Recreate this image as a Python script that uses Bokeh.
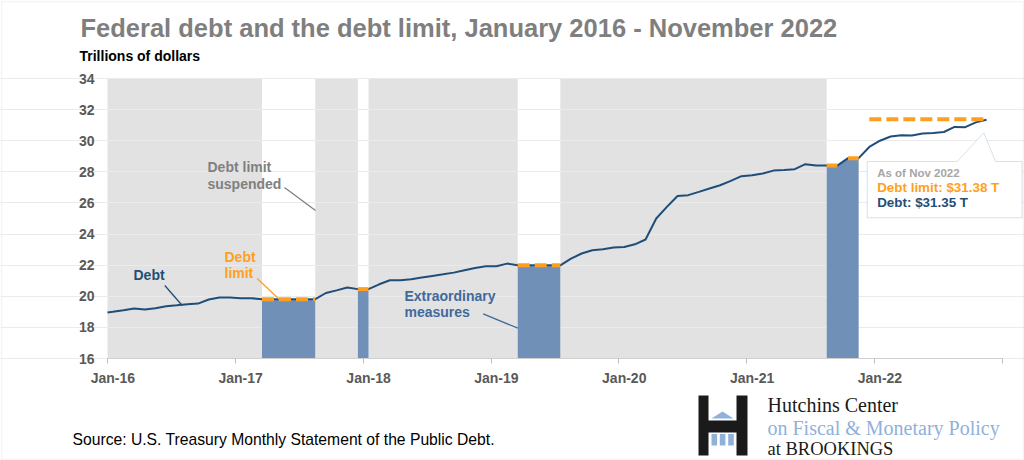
import pandas as pd
from bokeh.plotting import figure
from bokeh.models import FixedTicker, Label, PolyAnnotation, Range1d
from bokeh.embed import file_html
from bokeh.resources import INLINE

# ---------------- data ----------------
debt_start = "2015-12"
debt = [
    18.92,
    19.00, 19.10, 19.21, 19.15, 19.23, 19.36, 19.42, 19.49, 19.53, 19.79, 19.92, 19.92,   # 2016
    19.88, 19.88, 19.81, 19.81, 19.81, 19.81, 19.81, 19.81, 20.21, 20.38, 20.56, 20.46,   # 2017
    20.46, 20.77, 21.03, 21.03, 21.09, 21.20, 21.31, 21.41, 21.52, 21.67, 21.82, 21.93,   # 2018
    21.93, 22.10, 21.99, 21.99, 21.99, 21.99, 21.99, 22.42, 22.75, 22.96, 23.02, 23.13,   # 2019
    23.17, 23.34, 23.65, 25.00, 25.75, 26.45, 26.50, 26.71, 26.93, 27.14, 27.42, 27.72,   # 2020
    27.78, 27.89, 28.08, 28.12, 28.17, 28.49, 28.40, 28.40, 28.40, 28.88, 28.88, 29.60,   # 2021
    30.00, 30.27, 30.35, 30.33, 30.46, 30.50, 30.56, 30.89, 30.87, 31.18, 31.35,          # 2022
]
# extraordinary-measures periods (first month, last month)
em_periods = [("2017-03", "2017-08"), ("2017-12", "2018-01"),
              ("2019-03", "2019-07"), ("2021-08", "2021-11")]
# debt limit suspended (between month centres)
suspended = [("2015-12", "2017-03"), ("2017-08", "2017-12"),
             ("2018-01", "2019-03"), ("2019-07", "2021-08")]
# debt limit levels
limit_start = ["2017-03", "2017-12", "2019-03", "2021-08", "2021-10", "2021-12"]
limit_end = ["2017-08", "2018-01", "2019-07", "2021-09", "2021-11", "2022-11"]
limit_value = [19.81, 20.46, 21.99, 28.40, 28.88, 31.38]

tick_years = ["Jan-16", "Jan-17", "Jan-18", "Jan-19", "Jan-20", "Jan-21", "Jan-22"]
y_ticks = [16, 18, 20, 22, 24, 26, 28, 30, 32, 34]
Y_MIN, Y_MAX = 16, 34
XMAX = 84

# ---------------- helpers ----------------
def mpos(s):
    """month string -> x position (centre of month, Jan-2016 starts at 0)"""
    p = pd.Period(s, freq="M")
    return (p.year - 2016) * 12 + (p.month - 1) + 0.5

debt_months = [str(p) for p in pd.period_range(debt_start, periods=len(debt), freq="M")]
debt_x = [mpos(m) for m in debt_months]

W, H = 1024, 460
PL, PR, PT, PB = 107, 1002, 78, 358  # plot area in page pixels

def dx(px):
    return (px - PL) / (PR - PL) * XMAX

def dy(py):
    return Y_MIN + (PB - py) / (PB - PT) * (Y_MAX - Y_MIN)

NAVY = "#1F4E79"
ORANGE = "#FF9F1F"
AREA = "#7090B8"
EMTXT = "#41699C"
GRAYTXT = "#808080"
FONT = "Liberation Sans"

p = figure(width=W, height=H, x_range=Range1d(dx(0), dx(W)), y_range=Range1d(dy(H), dy(0)),
           output_backend="svg", toolbar_location=None,
           min_border_left=0, min_border_right=0, min_border_top=0, min_border_bottom=0)
p.background_fill_color = "white"
p.border_fill_color = "white"
p.outline_line_color = None

# suspended shading
p.quad(left=[max(mpos(a), 0) for a, b in suspended], right=[mpos(b) for a, b in suspended],
       bottom=Y_MIN, top=Y_MAX, fill_color="#E2E2E2", line_color=None, level="image")

# grid
p.xgrid.visible = False
p.ygrid.ticker = FixedTicker(ticks=y_ticks)
p.ygrid.bounds = (0, XMAX)
p.ygrid.grid_line_color = "#EBEBEB"
p.ygrid.grid_line_width = 1.2

# extraordinary-measures areas
for a, b in em_periods:
    i0, i1 = debt_months.index(a), debt_months.index(b)
    p.varea(x=debt_x[i0:i1 + 1], y1=Y_MIN, y2=debt[i0:i1 + 1], fill_color=AREA, fill_alpha=1)

# debt line (clipped at the start of the axis)
first = [i for i, v in enumerate(debt_x) if v >= 0][0]
x_line = [0] + debt_x[first:]
y_line = [debt[first - 1] + (debt[first] - debt[first - 1]) * (0 - debt_x[first - 1]) /
          (debt_x[first] - debt_x[first - 1])] + debt[first:]
p.line(x_line, y_line, line_color=NAVY, line_width=2)

# debt limit dashes
p.segment(x0=[mpos(s) for s in limit_start], x1=[mpos(e) for e in limit_end],
          y0=limit_value, y1=limit_value, line_color=ORANGE, line_width=4,
          line_dash="12 5")

# axes drawn at fixed positions inside the canvas
p.xaxis.fixed_location = Y_MIN
p.xaxis.bounds = (0, XMAX)
p.xaxis.ticker = FixedTicker(ticks=[12 * i + 0.5 for i in range(len(tick_years))],
                             minor_ticks=[12 * i for i in range(8)])
p.xaxis.major_label_overrides = {12 * i + 0.5: t for i, t in enumerate(tick_years)}
p.xaxis.major_tick_line_color = None
p.xaxis.major_tick_out = 0
p.xaxis.major_tick_in = 0
p.xaxis.minor_tick_line_color = "#BFBFBF"
p.xaxis.minor_tick_out = 5
p.xaxis.minor_tick_in = 0
p.xaxis.axis_line_color = "#D0D0D0"
p.xaxis.major_label_standoff = 6
p.yaxis.fixed_location = 0
p.yaxis.bounds = (Y_MIN, Y_MAX)
p.yaxis.ticker = FixedTicker(ticks=y_ticks)
p.yaxis.axis_line_color = None
p.yaxis.major_tick_line_color = None
p.yaxis.minor_tick_line_color = None
p.yaxis.major_tick_out = 0
p.yaxis.major_label_standoff = 13
for ax in (p.xaxis, p.yaxis):
    ax.major_label_text_font = FONT
    ax.major_label_text_font_style = "bold"
    ax.major_label_text_font_size = "14px"
    ax.major_label_text_color = "#595959"

# leader lines
leaders = [
    ((164.3, 285), (181.7, 305), NAVY),
    ((256.7, 278), (279, 299), ORANGE),
    ((284, 187), (315, 210), GRAYTXT),
    ((482.7, 313.3), (517.3, 327.7), EMTXT),
]
for (x0, y0), (x1, y1), c in leaders:
    p.line([dx(x0), dx(x1)], [dy(y0), dy(y1)], line_color=c, line_width=1.3)

def label(px, py, text, size, color, style="bold", font=FONT):
    p.add_layout(Label(x=dx(px), y=dy(py), text=text, text_font=font,
                       text_font_size=size, text_font_style=style, text_color=color,
                       text_align="left", text_baseline="middle"))

# callout box
cx = [866.7, 956.7, 983.3, 995, 1021.5, 1021.5, 866.7]
cy = [161, 161, 132.3, 161, 161, 217.3, 217.3]
p.add_layout(PolyAnnotation(xs=[dx(v) for v in cx], ys=[dy(v) for v in cy],
                            fill_color="white", fill_alpha=1,
                            line_color="#7F9CC0", line_width=1))
label(876.7, 172.5, "As of Nov 2022", "11.5px", "#A6A6A6")
label(876.7, 187, "Debt limit: $31.38 T", "13.4px", ORANGE)
label(876.7, 202, "Debt: $31.35 T", "13.4px", NAVY)

# annotations
label(133, 274, "Debt", "14px", NAVY)
label(224, 256, "Debt", "14px", ORANGE)
label(224, 272, "limit", "14px", ORANGE)
label(207, 166, "Debt limit", "14px", GRAYTXT)
label(207, 183, "suspended", "14px", GRAYTXT)
label(404, 295, "Extraordinary", "14px", EMTXT)
label(404, 311.5, "measures", "14px", EMTXT)

# titles
label(80, 27.5, "Federal debt and the debt limit, January 2016 - November 2022", "25.5px", "#7F7F7F")
label(79, 55, "Trillions of dollars", "14px", "#000000")
label(72, 438.5, "Source: U.S. Treasury Monthly Statement of the Public Debt.", "15.7px", "#000000", style="normal")

# logo
def poly(pts, color):
    p.add_layout(PolyAnnotation(xs=[dx(a) for a, b in pts], ys=[dy(b) for a, b in pts],
                                fill_color=color, fill_alpha=1, line_color=None))

poly([(698, 395), (708, 395), (708, 420), (736, 420), (736, 395), (747, 395), (747, 455),
      (736, 455), (736, 432), (708, 432), (708, 455), (698, 455)], "#1A1A1A")
LB = "#8FB1DA"
poly([(711, 418), (733, 418), (722, 411)], LB)
for a in (711, 719.3, 727.7):
    poly([(a, 433.5), (a + 5.6, 433.5), (a + 5.6, 445), (a, 445)], LB)
SERIF = "Liberation Serif"
label(767, 404, "Hutchins Center", "20px", "#1A1A1A", style="normal", font=SERIF)
label(767, 427, "on Fiscal & Monetary Policy", "20px", LB, style="normal", font=SERIF)
label(767, 448, "at BROOKINGS", "18.5px", "#1A1A1A", style="normal", font=SERIF)

# page border
p.add_layout(PolyAnnotation(xs=[dx(v) for v in (1, 1023, 1023, 1)],
                            ys=[dy(v) for v in (1, 1, 459, 459)],
                            fill_alpha=0, line_color="#D9D9D9", line_width=1.5))

open("out.html", "w").write(file_html(p, INLINE))
